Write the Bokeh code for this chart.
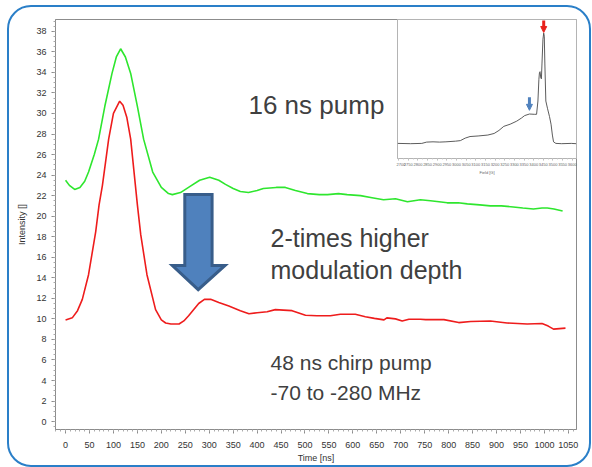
from bokeh.plotting import figure
from bokeh.models import Range1d, SingleIntervalTicker, Label, GridBox, Arrow, NormalHead
from bokeh.embed import file_html
from bokeh.resources import INLINE

# ---------------- data ----------------
time_green = [0, 8, 19, 30, 40, 48, 60, 69, 82, 97, 106, 115, 125, 136, 150, 163, 182, 200, 215, 223,
              240, 260, 280, 301, 320, 334, 350, 365, 382, 400, 413, 440, 459, 480, 505, 530, 547, 570,
              588, 616, 640, 664, 689, 714, 741, 762, 780, 797, 820, 839, 865, 887, 910, 935, 955, 977,
              995, 1006, 1020, 1038]
intensity_green = [23.5, 23.0, 22.6, 22.8, 23.4, 24.3, 26.0, 27.5, 30.7, 33.9, 35.5, 36.3, 35.5, 33.9, 30.7,
                   27.5, 24.3, 22.8, 22.2, 22.1, 22.3, 22.9, 23.5, 23.8, 23.5, 23.1, 22.7, 22.4, 22.3, 22.5,
                   22.7, 22.8, 22.8, 22.5, 22.2, 22.1, 22.1, 22.2, 22.1, 22.0, 21.8, 21.6, 21.7, 21.4, 21.6,
                   21.5, 21.4, 21.3, 21.3, 21.2, 21.1, 21.0, 21.0, 20.9, 20.8, 20.7, 20.8, 20.8, 20.7, 20.5]

time_red = [0, 14, 25, 35, 48, 63, 70, 77, 90, 100, 113, 120, 128, 136, 150, 157, 170, 188, 200, 209, 220,
            237, 247, 257, 278, 290, 303, 320, 341, 365, 383, 400, 421, 438, 455, 473, 501, 525, 553, 574,
            605, 626, 645, 665, 671, 689, 703, 717, 741, 752, 790, 821, 846, 887, 922, 964, 995, 1008,
            1019, 1044]
intensity_red = [9.9, 10.1, 10.8, 11.9, 14.3, 18.5, 21.1, 23.0, 27.5, 30.0, 31.2, 30.8, 29.6, 27.5, 21.1,
                 18.2, 14.3, 10.9, 9.9, 9.6, 9.5, 9.5, 9.8, 10.3, 11.5, 11.9, 11.9, 11.6, 11.25, 10.8, 10.5,
                 10.6, 10.7, 10.9, 10.85, 10.8, 10.35, 10.3, 10.3, 10.45, 10.45, 10.2, 10.05, 9.9, 10.1,
                 10.0, 9.8, 9.96, 9.96, 9.93, 9.93, 9.64, 9.74, 9.8, 9.6, 9.5, 9.55, 9.3, 9.0, 9.1]

field_G = [2695, 2762, 2820, 2845, 2878, 2912, 2945, 2995, 3020, 3045, 3070, 3112, 3162, 3195, 3220,
           3245, 3278, 3312, 3337, 3353, 3378, 3403, 3415, 3422, 3427, 3430, 3433, 3437, 3440, 3443,
           3448, 3452, 3455, 3458, 3463, 3472, 3482, 3490, 3497, 3503, 3515, 3545, 3595, 3620]
epr_signal = [16.3, 16.0, 16.3, 17.7, 18.0, 17.7, 18.0, 18.7, 19.3, 22.0, 23.7, 24.3, 25.3, 27.0, 30.3,
              34.7, 37.0, 40.3, 43.7, 46.3, 48.0, 47.7, 47.7, 62.0, 85.3, 92.7, 93.7, 87.0, 86.0, 102.0,
              128.7, 135.3, 132.0, 102.0, 62.0, 53.7, 45.3, 37.0, 25.3, 18.0, 16.3, 16.0, 16.3, 16.0]

# annotation geometry (data units of the main chart)
arrow_x = [249, 306, 306, 333, 277, 223, 249]
arrow_y = [22.1, 22.1, 15.2, 15.2, 12.85, 15.2, 15.2]

TXT = "#404040"
FONT = "Liberation Sans"

# ---------------- main chart ----------------
p = figure(width=580, height=458, output_backend="svg", toolbar_location=None,
           x_range=Range1d(-21, 1067), y_range=Range1d(-0.77, 39.15),
           min_border_left=46, min_border_right=13, min_border_top=12, min_border_bottom=34)
p.border_fill_color = None
p.background_fill_color = "white"
p.outline_line_color = "#8c8c8c"
p.grid.visible = False

p.xaxis.ticker = SingleIntervalTicker(interval=50, num_minor_ticks=5)
p.yaxis.ticker = SingleIntervalTicker(interval=2, num_minor_ticks=4)
for ax in (p.xaxis[0], p.yaxis[0]):
    ax.axis_line_color = "#8c8c8c"
    ax.major_tick_line_color = "#8c8c8c"
    ax.minor_tick_line_color = "#aaaaaa"
    ax.major_tick_in = 0
    ax.major_tick_out = 4
    ax.minor_tick_in = 0
    ax.minor_tick_out = 2
    ax.major_label_text_font_size = "9px"
    ax.major_label_text_color = "#333333"
    ax.major_label_text_font = FONT
    ax.axis_label_text_font = FONT
    ax.axis_label_text_font_size = "9px"
    ax.axis_label_text_font_style = "normal"
    ax.axis_label_text_color = "#333333"
p.xaxis.axis_label = "Time [ns]"
p.yaxis.axis_label = "Intensity []"
p.xaxis.major_label_standoff = 8
p.yaxis.major_label_standoff = 5
p.xaxis.axis_label_standoff = 2
p.yaxis.axis_label_standoff = 6

p.line(time_green, intensity_green, line_color="#2ee62e", line_width=1.6)
p.line(time_red, intensity_red, line_color="#ee1c1c", line_width=1.6)

p.patch(arrow_x, arrow_y, fill_color="#4f81bd", line_color="#385d8a", line_width=3, line_join="miter")

labels = [("16 ns pump", 382, 30.86, "26px"), ("2-times higher", 428, 17.84, "25px"),
          ("modulation depth", 428, 14.75, "25px"), ("48 ns chirp pump", 428, 5.79, "21px"),
          ("-70 to -280 MHz", 428, 2.8, "21px")]
for txt, lx, ly, fs in labels:
    p.add_layout(Label(x=lx, y=ly, text=txt, text_font=FONT, text_font_size=fs,
                       text_color=TXT, text_baseline="alphabetic"))

# ---------------- inset spectrum ----------------
inset = figure(width=193, height=170, output_backend="svg", toolbar_location=None,
               x_range=Range1d(2694, 3622), y_range=Range1d(0, 150),
               min_border_left=1, min_border_right=7, min_border_top=5, min_border_bottom=2)
inset.background_fill_color = "white"
inset.border_fill_color = None
inset.outline_line_color = "#b4b4b4"
inset.grid.visible = False
inset.yaxis.visible = False
ix = inset.xaxis[0]
ix.ticker = SingleIntervalTicker(interval=50, num_minor_ticks=2)
ix.axis_line_color = "#b4b4b4"
ix.major_tick_line_color = "#b4b4b4"
ix.minor_tick_line_color = "#cccccc"
ix.major_tick_in = 0
ix.major_tick_out = 2
ix.minor_tick_in = 0
ix.minor_tick_out = 1
ix.major_label_text_font_size = "4px"
ix.major_label_text_color = "#666666"
ix.major_label_standoff = 2
ix.axis_label = "Field [G]"
ix.axis_label_text_font_size = "4px"
ix.axis_label_text_font_style = "normal"
ix.axis_label_text_color = "#666666"
ix.axis_label_standoff = 1

inset.line(field_G, epr_signal, line_color="#4a4a4a", line_width=0.9)
inset.add_layout(Arrow(end=NormalHead(size=6, fill_color="#e8201a", line_color="#e8201a"),
                       x_start=3452, y_start=149, x_end=3452, y_end=136,
                       line_color="#e8201a", line_width=3))
inset.add_layout(Arrow(end=NormalHead(size=6, fill_color="#4f81bd", line_color="#4f81bd"),
                       x_start=3378, y_start=66, x_end=3378, y_end=52,
                       line_color="#4f81bd", line_width=3))

grid = GridBox(children=[(p, 0, 0, 2, 2), (inset, 0, 1, 1, 1)],
               rows=["170px", "288px"], cols=["387px", "193px"],
               styles={"border": "2px solid #2a7fc8", "border-radius": "24px",
                       "background": "white", "margin": "5px 0 0 7px"})

open("out.html", "w").write(file_html(grid, INLINE))
